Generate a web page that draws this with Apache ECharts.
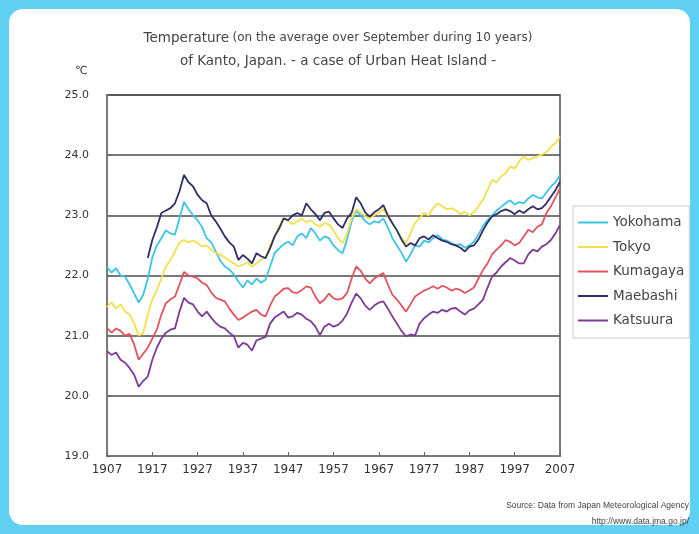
<!DOCTYPE html>
<html>
<head>
<meta charset="utf-8">
<script src="https://cdn.jsdelivr.net/npm/echarts@6/dist/echarts.min.js"></script>
<style>html,body{margin:0;padding:0;background:#5fd0f2;}#c{width:699px;height:534px;}</style>
</head>
<body>
<div id="c"></div>
<script>
var years = [];
for (var y = 1907; y <= 2007; y++) years.push(String(y));

var yokohama = [22.14,22.05,22.12,22.00,21.98,21.85,21.70,21.55,21.68,21.95,
22.30,22.50,22.62,22.75,22.70,22.68,22.95,23.22,23.10,23.00,
22.92,22.80,22.62,22.55,22.40,22.25,22.15,22.10,22.02,21.90,
21.80,21.92,21.85,21.95,21.88,21.93,22.15,22.37,22.45,22.52,
22.56,22.50,22.65,22.70,22.62,22.79,22.70,22.58,22.65,22.62,
22.50,22.42,22.37,22.60,22.90,23.08,23.00,22.90,22.85,22.90,
22.88,22.95,22.80,22.62,22.50,22.38,22.23,22.35,22.50,22.48,
22.58,22.55,22.62,22.67,22.60,22.58,22.54,22.50,22.52,22.46,
22.50,22.56,22.68,22.82,22.92,23.00,23.08,23.14,23.20,23.25,
23.18,23.22,23.20,23.28,23.34,23.30,23.28,23.38,23.48,23.55,
23.67];

var tokyo = [21.48,21.55,21.45,21.52,21.40,21.35,21.20,21.00,21.05,21.35,
21.60,21.76,21.95,22.15,22.26,22.40,22.55,22.59,22.55,22.58,
22.54,22.48,22.50,22.43,22.38,22.35,22.30,22.25,22.20,22.15,
22.18,22.22,22.15,22.20,22.26,22.30,22.50,22.65,22.82,22.95,
22.90,22.85,22.90,22.95,22.88,22.92,22.85,22.81,22.87,22.85,
22.75,22.62,22.54,22.70,22.95,23.10,23.05,22.98,22.95,23.00,
23.05,23.10,22.98,22.87,22.75,22.62,22.54,22.70,22.87,22.95,
23.04,23.00,23.12,23.20,23.15,23.10,23.12,23.08,23.02,23.06,
23.00,23.05,23.15,23.26,23.42,23.59,23.55,23.65,23.70,23.81,
23.78,23.90,23.98,23.92,23.95,23.98,24.01,24.05,24.14,24.20,
24.31];

var kumagaya = [21.13,21.05,21.12,21.08,21.00,21.03,20.85,20.60,20.70,20.80,
20.95,21.10,21.35,21.54,21.60,21.65,21.85,22.06,22.00,21.98,
21.95,21.88,21.84,21.72,21.63,21.60,21.57,21.45,21.35,21.26,
21.30,21.35,21.40,21.43,21.35,21.32,21.50,21.65,21.71,21.78,
21.79,21.72,21.71,21.76,21.82,21.80,21.65,21.54,21.60,21.70,
21.62,21.60,21.62,21.71,21.95,22.15,22.08,21.95,21.87,21.95,
22.00,22.04,21.85,21.68,21.60,21.50,21.40,21.52,21.65,21.70,
21.75,21.78,21.82,21.78,21.83,21.80,21.75,21.78,21.76,21.71,
21.75,21.80,21.95,22.09,22.20,22.35,22.43,22.50,22.59,22.56,
22.50,22.54,22.65,22.76,22.72,22.81,22.85,23.04,23.15,23.30,
23.45];

var maebashi = [null,null,null,null,null,null,null,null,null,
22.29,22.59,22.80,23.04,23.08,23.12,23.20,23.40,23.67,23.55,
23.48,23.34,23.25,23.20,23.00,22.90,22.78,22.65,22.55,22.48,
22.26,22.34,22.28,22.20,22.37,22.32,22.29,22.45,22.65,22.78,
22.95,22.92,23.00,23.04,23.00,23.20,23.10,23.02,22.92,23.04,
23.06,22.95,22.85,22.79,22.95,23.04,23.30,23.20,23.05,22.98,
23.05,23.10,23.17,23.00,22.87,22.75,22.60,22.48,22.54,22.50,
22.62,22.65,22.60,22.67,22.62,22.58,22.56,22.52,22.50,22.46,
22.40,22.48,22.50,22.60,22.75,22.88,22.98,23.02,23.07,23.10,
23.07,23.02,23.08,23.04,23.10,23.15,23.10,23.12,23.20,23.31,
23.42,23.56];

var katsuura = [20.74,20.68,20.72,20.60,20.55,20.46,20.35,20.15,20.25,20.32,
20.60,20.80,20.95,21.05,21.10,21.12,21.40,21.63,21.55,21.52,
21.40,21.32,21.40,21.30,21.21,21.15,21.12,21.05,20.99,20.80,
20.88,20.85,20.75,20.92,20.95,20.98,21.20,21.30,21.35,21.40,
21.30,21.32,21.38,21.35,21.28,21.24,21.15,21.01,21.15,21.20,
21.15,21.18,21.25,21.37,21.55,21.70,21.62,21.50,21.43,21.50,
21.55,21.57,21.45,21.32,21.20,21.08,20.99,21.02,21.00,21.20,
21.29,21.35,21.40,21.38,21.43,21.40,21.45,21.46,21.40,21.35,
21.42,21.45,21.52,21.60,21.80,21.98,22.05,22.15,22.22,22.29,
22.25,22.20,22.20,22.35,22.43,22.40,22.48,22.52,22.59,22.70,
22.84];

var seriesNames = ['Yokohama','Tokyo','Kumagaya','Maebashi','Katsuura'];
var seriesData = [yokohama, tokyo, kumagaya, maebashi, katsuura];
var seriesColors = ['#3cc4e6','#f2e04c','#e2525f','#2e2e68','#7a3a96'];

var FONT = 'DejaVu Sans, Verdana, sans-serif';
var FONT2 = 'Liberation Sans, Arial, sans-serif';
var chart = echarts.init(document.getElementById('c'));
chart.setOption({
  backgroundColor: '#5fd0f2',
  animation: false,
  textStyle: {fontFamily: FONT},
  graphic: [
    {type:'rect', z:-10, shape:{x:9,y:9,width:681,height:516,r:14}, style:{fill:'#ffffff'}},
    {type:'text', x:338, y:38, z:10, style:{
      text:'{a|Temperature} {b|(on the average over September during 10 years)}',
      textAlign:'center', textVerticalAlign:'middle',
      rich:{a:{fontSize:13.5,fill:'#444',fontFamily:FONT}, b:{fontSize:12,fill:'#444',fontFamily:FONT}}
    }},
    {type:'text', x:338, y:61, z:10, style:{
      text:'of Kanto, Japan. - a case of Urban Heat Island -', fontSize:13.5, fill:'#444', fontFamily:FONT,
      textAlign:'center', textVerticalAlign:'middle'}},
    {type:'text', x:75, y:71, z:10, style:{text:'℃', fontSize:11, fill:'#333', fontFamily:FONT, textAlign:'left', textVerticalAlign:'middle'}},
    {type:'text', x:689, y:506, z:10, style:{text:'Source: Data from Japan Meteorological Agency', fontSize:8.5, fill:'#444', fontFamily:FONT2, textAlign:'right', textVerticalAlign:'middle'}},
    {type:'text', x:689, y:522, z:10, style:{text:'http://www.data.jma.go.jp/', fontSize:8.5, fill:'#444', fontFamily:FONT2, textAlign:'right', textVerticalAlign:'middle'}}
  ],
  grid: {left:107, right:139, top:95, bottom:78, show:true, borderColor:'#7a7a7a', borderWidth:2, backgroundColor:'transparent'},
  legend: {
    orient:'vertical', left:573, top:206,
    padding:[8,5,9,5], itemGap:7.5, itemWidth:30, itemHeight:2,
    icon:'rect',
    borderColor:'#cccccc', borderWidth:1,
    textStyle:{fontSize:13.5, color:'#444', fontFamily:FONT, lineHeight:17},
    data: seriesNames
  },
  xAxis: {
    type:'category', data: years, boundaryGap:false,
    axisLine:{show:true, lineStyle:{color:'#7a7a7a', width:2}},
    axisTick:{show:true, inside:true, interval:9, length:4, lineStyle:{color:'#666'}},
    axisLabel:{interval:9, fontSize:12, color:'#333', margin:8, fontFamily:FONT},
    splitLine:{show:false}
  },
  yAxis: {
    type:'value', min:19, max:25, interval:1,
    axisLine:{show:true, lineStyle:{color:'#7a7a7a', width:2}},
    axisTick:{show:true, inside:true, length:4, lineStyle:{color:'#666'}},
    axisLabel:{fontSize:11, color:'#333', margin:18, fontFamily:FONT, formatter:function(v){return v.toFixed(1);}},
    splitLine:{show:true, lineStyle:{color:'#4a4a4a', width:1.5}}
  },
  series: seriesNames.map(function(n,i){
    return {name:n, type:'line', data:seriesData[i], symbol:'none', connectNulls:false,
      lineStyle:{color:seriesColors[i], width:1.8}, itemStyle:{color:seriesColors[i]}};
  })
});
</script>
</body>
</html>
